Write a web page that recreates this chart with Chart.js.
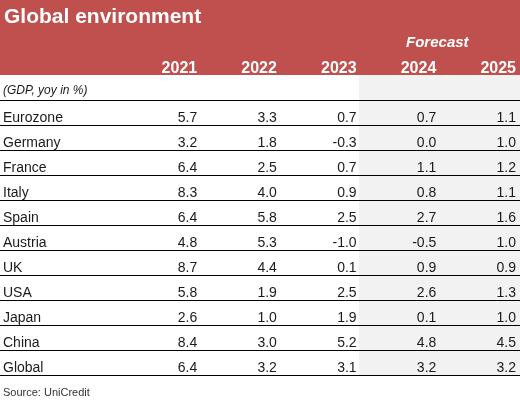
<!DOCTYPE html>
<html><head><meta charset="utf-8">
<script src="https://cdn.jsdelivr.net/npm/chart.js@4/dist/chart.umd.min.js"></script>
<style>html,body{margin:0;padding:0;background:#fff}canvas{display:block}</style>
</head><body>
<canvas id="c" width="520" height="403"></canvas>
<script>
const title = "Global environment";
const subtitle = "(GDP, yoy in %)";
const source = "Source: UniCredit";
const forecastLabel = "Forecast";
const years = ["2021", "2022", "2023", "2024", "2025"];
const countries = ["Eurozone","Germany","France","Italy","Spain","Austria","UK","USA","Japan","China","Global"];
const v2021 = [5.7, 3.2, 6.4, 8.3, 6.4, 4.8, 8.7, 5.8, 2.6, 8.4, 6.4];
const v2022 = [3.3, 1.8, 2.5, 4.0, 5.8, 5.3, 4.4, 1.9, 1.0, 3.0, 3.2];
const v2023 = [0.7, -0.3, 0.7, 0.9, 2.5, -1.0, 0.1, 2.5, 1.9, 5.2, 3.1];
const v2024 = [0.7, 0.0, 1.1, 0.8, 2.7, -0.5, 0.9, 2.6, 0.1, 4.8, 3.2];
const v2025 = [1.1, 1.0, 1.2, 1.1, 1.6, 1.0, 0.9, 1.3, 1.0, 4.5, 3.2];
const seriesValues = [v2021, v2022, v2023, v2024, v2025];
const forecastYears = ["2024", "2025"];

const RED = "#C0504D", GREY = "#F2F2F2", TXT = "#1a1a1a";
const FONT = "'Liberation Sans', Arial, sans-serif";

const datasets = years.map((y, j) => ({
  label: y,
  data: countries.map((c, i) => ({ x: j + 1, y: c, v: seriesValues[j][i] })),
  pointRadius: 0, pointHoverRadius: 0, showLine: false
}));

const tablePlugin = {
  id: 'tablePlugin',
  beforeDraw(chart) {
    const ctx = chart.ctx, xs = chart.scales.x, ys = chart.scales.y;
    ctx.save();
    ctx.fillStyle = '#fff';
    ctx.fillRect(0, 0, chart.width, chart.height);
    const firstF = years.indexOf(forecastYears[0]) + 1;
    const x0 = Math.round(xs.getPixelForValue(firstF - 1 + 0.03));
    ctx.fillStyle = GREY;
    ctx.fillRect(x0, 75, chart.width - x0, Math.round(ys.bottom) - 75 + 1);
    ctx.fillStyle = RED;
    ctx.fillRect(0, 0, chart.width, 75);
    ctx.restore();
  },
  afterDatasetsDraw(chart) {
    const ctx = chart.ctx, xs = chart.scales.x, ys = chart.scales.y;
    ctx.save();
    ctx.fillStyle = '#fff';
    ctx.textBaseline = 'alphabetic';
    ctx.font = "bold 21px " + FONT;
    ctx.textAlign = 'left';
    ctx.fillText(title, 4, 23);
    ctx.font = "bold 16px " + FONT;
    ctx.textAlign = 'right';
    years.forEach((y, j) => ctx.fillText(y, xs.getPixelForValue(j + 1), 73));
    const fa = years.indexOf(forecastYears[0]) + 1;
    ctx.font = "italic bold 15px " + FONT;
    ctx.textAlign = 'center';
    ctx.fillText(forecastLabel, xs.getPixelForValue(fa) + 1, 47);
    ctx.fillStyle = TXT;
    ctx.font = "italic 12px " + FONT;
    ctx.textAlign = 'left';
    ctx.fillText(subtitle, 3, 94);
    ctx.font = "14px " + FONT;
    countries.forEach((c, i) => ctx.fillText(c, 3, ys.getPixelForValue(i) + 9.5));
    ctx.textAlign = 'right';
    chart.data.datasets.forEach((ds, j) => {
      const meta = chart.getDatasetMeta(j);
      meta.data.forEach((pt, i) => {
        ctx.fillText(ds.data[i].v.toFixed(1), pt.x, pt.y + 9.5);
      });
    });
    ctx.fillStyle = '#333';
    ctx.font = "11px " + FONT;
    ctx.textAlign = 'left';
    ctx.fillText(source, 3, 396);
    ctx.restore();
  }
};

new Chart(document.getElementById('c'), {
  type: 'scatter',
  data: { datasets },
  options: {
    responsive: false,
    animation: false,
    events: [],
    layout: { padding: { top: 100, bottom: 28, left: 0, right: 0 } },
    plugins: { legend: { display: false }, tooltip: { enabled: false } },
    scales: {
      x: { type: 'linear', display: false, min: -1.474, max: 5.05 },
      y: {
        type: 'category', labels: countries, offset: true,
        grid: { offset: true, color: '#000', lineWidth: 1, drawTicks: false },
        border: { display: false },
        ticks: { display: false }
      }
    }
  },
  plugins: [tablePlugin]
});
</script>
</body></html>
